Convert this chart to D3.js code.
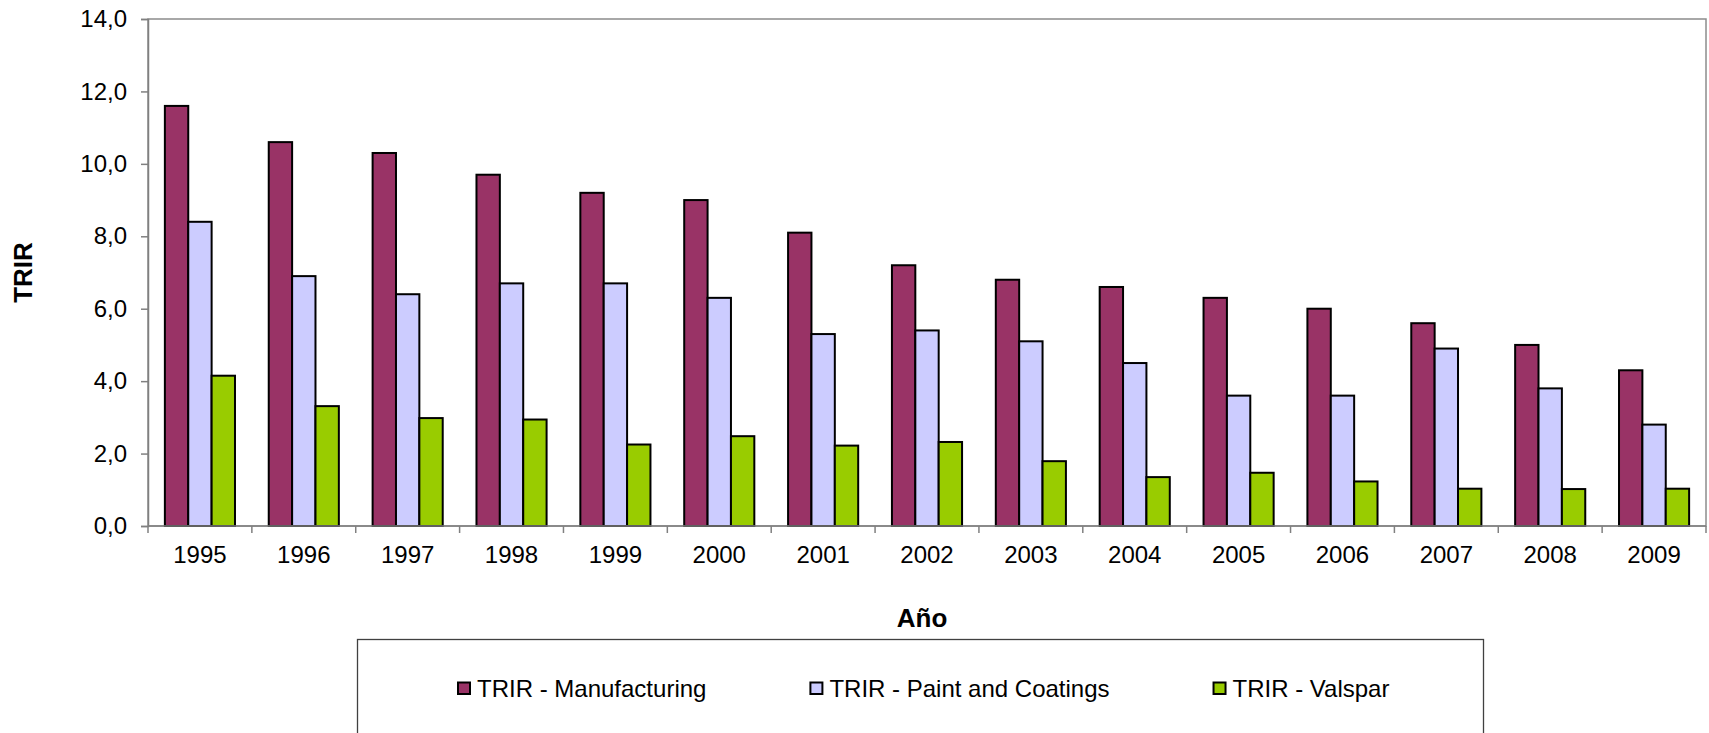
<!DOCTYPE html>
<html>
<head>
<meta charset="utf-8">
<script src="https://cdn.jsdelivr.net/npm/d3@7"></script>
<style>
  body { margin: 0; background: #fff; }
  text { font-family: "Liberation Sans", Arial, sans-serif; fill: #000; }
</style>
</head>
<body>
<div id="chart"></div>
<script>
// data
var years = ["1995","1996","1997","1998","1999","2000","2001","2002","2003","2004","2005","2006","2007","2008","2009"];
var seriesNames = ["TRIR - Manufacturing", "TRIR - Paint and Coatings", "TRIR - Valspar"];
var manufacturing = [11.6, 10.6, 10.3, 9.7, 9.2, 9.0, 8.1, 7.2, 6.8, 6.6, 6.3, 6.0, 5.6, 5.0, 4.3];
var paintCoatings = [8.4, 6.9, 6.4, 6.7, 6.7, 6.3, 5.3, 5.4, 5.1, 4.5, 3.6, 3.6, 4.9, 3.8, 2.8];
var valspar = [4.15, 3.31, 2.98, 2.94, 2.25, 2.48, 2.22, 2.32, 1.79, 1.35, 1.47, 1.23, 1.03, 1.02, 1.03];
var yTicks = [0, 2, 4, 6, 8, 10, 12, 14];
var colors = ["#993366", "#CCCCFF", "#99CC00"];

var W = 1709, H = 733;
var margin = {top: 19, right: 3, bottom: 207, left: 148},
    width = W - margin.left - margin.right,
    height = H - margin.top - margin.bottom;

var svg = d3.select("#chart")
    .append("svg")
    .attr("width", W)
    .attr("height", H);

var g = svg.append("g")
    .attr("transform", "translate(" + margin.left + "," + margin.top + ")");

var x0 = d3.scaleBand()
    .domain(years)
    .range([0, width])
    .paddingInner(0.325)
    .paddingOuter(0.1625);

var x1 = d3.scaleBand()
    .domain(d3.range(3))
    .range([0, x0.bandwidth()]);

var y = d3.scaleLinear()
    .domain([0, 14])
    .range([height, 0]);

var fmt = function(d) { return d3.format(".1f")(d).replace(".", ","); };

// plot frame (top / right)
g.append("rect")
    .attr("x", 0).attr("y", 0)
    .attr("width", width).attr("height", height)
    .attr("fill", "none")
    .attr("stroke", "#8c8c8c")
    .attr("stroke-width", 1.5);

// bars
var rows = years.map(function(yr, i) {
    return {year: yr, vals: [manufacturing[i], paintCoatings[i], valspar[i]]};
});

var groups = g.selectAll(".grp")
    .data(rows)
    .enter()
    .append("g")
    .attr("class", "grp")
    .attr("transform", function(d) { return "translate(" + x0(d.year) + ",0)"; });

groups.selectAll("rect")
    .data(function(d) { return d.vals; })
    .enter()
    .append("rect")
    .attr("x", function(d, i) { return x1(i); })
    .attr("y", function(d) { return y(d); })
    .attr("width", x1.bandwidth())
    .attr("height", function(d) { return height - y(d); })
    .attr("fill", function(d, i) { return colors[i]; })
    .attr("stroke", "#000")
    .attr("stroke-width", 2);

// y axis
var yAxis = g.append("g")
    .call(d3.axisLeft(y).tickValues(yTicks).tickFormat(fmt).tickSize(7).tickPadding(14));
yAxis.select(".domain").attr("stroke", "#808080").attr("stroke-width", 1.5);
yAxis.selectAll(".tick line").attr("stroke", "#808080").attr("stroke-width", 1.5);
yAxis.selectAll(".tick text")
    .style("font-family", "'Liberation Sans', Arial, sans-serif")
    .style("font-size", "24px")
    .attr("fill", "#000");

// x axis: ticks on category boundaries, labels centered
var xAxisG = g.append("g")
    .attr("transform", "translate(0," + height + ")");
xAxisG.append("line")
    .attr("x1", 0).attr("x2", width)
    .attr("stroke", "#808080").attr("stroke-width", 1.5);
var bounds = years.map(function(d) { return x0(d) - x0.step() * x0.paddingInner() / 2; });
bounds.push(width);
xAxisG.selectAll(".xt")
    .data(bounds)
    .enter()
    .append("line")
    .attr("class", "xt")
    .attr("x1", function(d) { return d; })
    .attr("x2", function(d) { return d; })
    .attr("y1", 0).attr("y2", 7)
    .attr("stroke", "#808080").attr("stroke-width", 1.5);
xAxisG.selectAll(".xl")
    .data(years)
    .enter()
    .append("text")
    .attr("class", "xl")
    .attr("x", function(d) { return x0(d) + x0.bandwidth() / 2; })
    .attr("y", 37)
    .attr("text-anchor", "middle")
    .style("font-size", "24px")
    .text(function(d) { return d; });

// axis titles
svg.append("text")
    .attr("transform", "translate(23," + (margin.top + height / 2) + ") rotate(-90)")
    .attr("text-anchor", "middle")
    .attr("dominant-baseline", "central")
    .style("font-size", "26px")
    .style("font-weight", "bold")
    .text("TRIR");

svg.append("text")
    .attr("x", 922)
    .attr("y", 627)
    .attr("text-anchor", "middle")
    .style("font-size", "26px")
    .style("font-weight", "bold")
    .text("Año");

// legend
var legend = svg.append("g");
legend.append("rect")
    .attr("x", 357.5).attr("y", 639.5)
    .attr("width", 1126).attr("height", 120)
    .attr("fill", "#fff")
    .attr("stroke", "#404040")
    .attr("stroke-width", 1.3);

var lx = 457;
seriesNames.forEach(function(name, i) {
    var item = legend.append("g");
    item.append("rect")
        .attr("x", lx + 1).attr("y", 682.5)
        .attr("width", 12).attr("height", 11.5)
        .attr("fill", colors[i])
        .attr("stroke", "#000")
        .attr("stroke-width", 2);
    var t = item.append("text")
        .attr("x", lx + 20)
        .attr("y", 697)
        .style("font-size", "24px")
        .text(name);
    lx = lx + 20 + t.node().getComputedTextLength() + 103;
});
</script>
</body>
</html>
